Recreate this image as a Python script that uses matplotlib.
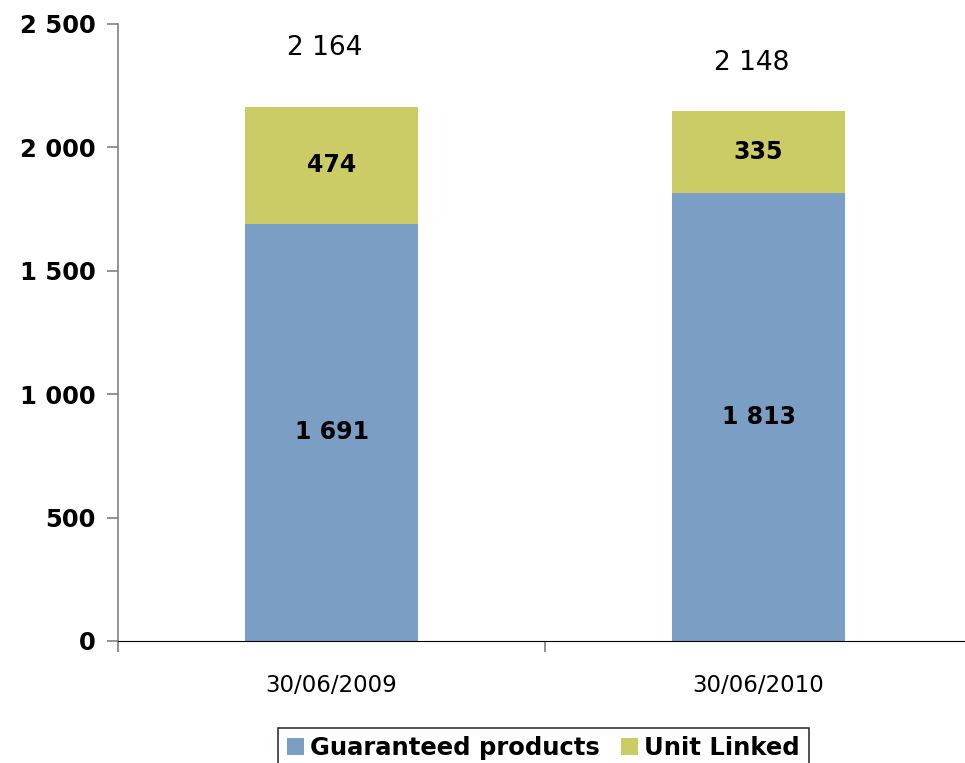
import matplotlib
matplotlib.use("Agg")
import matplotlib.pyplot as plt
import numpy as np

categories = ["30/06/2009", "30/06/2010"]
guaranteed = [1691, 1813]
unit_linked = [474, 335]
totals = [2164, 2148]
total_offsets = [240, 195]

blue = "#7b9ec4"
green = "#cccc66"


def fmt(v):
    return f"{v:,}".replace(",", " ")


fig = plt.figure(figsize=(9.65, 7.63), dpi=100)
ax = fig.add_axes([0.1223, 0.160, 0.885, 0.8086])

x = np.arange(len(categories))
w = 0.405
ax.bar(x, guaranteed, w, color=blue, label="Guaranteed products")
ax.bar(x, unit_linked, w, bottom=guaranteed, color=green, label="Unit Linked")

for i in x:
    ax.text(i, guaranteed[i] / 2, fmt(guaranteed[i]), ha="center", va="center",
            fontsize=17, fontweight="bold")
    ax.text(i, guaranteed[i] + unit_linked[i] / 2, fmt(unit_linked[i]),
            ha="center", va="center", fontsize=17, fontweight="bold")
    ax.text(i - 0.015, totals[i] + total_offsets[i], fmt(totals[i]),
            ha="center", va="center", fontsize=19)

ax.set_xlim(-0.5, 1.5)
ax.set_ylim(0, 2500)
ax.set_yticks(range(0, 2501, 500))
ax.set_yticklabels([fmt(v) for v in range(0, 2501, 500)], fontsize=17.5,
                   fontweight="bold")
ax.set_xticks([-0.5, 0.5, 1.5])
ax.set_xticklabels([])
ax.set_xticks(x, minor=True)
ax.set_xticklabels(categories, minor=True, fontsize=16.5)
ax.tick_params(axis="x", which="minor", length=0, pad=24)
ax.tick_params(axis="x", which="major", length=8, color="#808080", width=1.2)
ax.tick_params(axis="y", length=8, color="#808080", pad=8, width=1.2)

for s in ["top", "right"]:
    ax.spines[s].set_visible(False)
ax.spines["left"].set_color("#808080")
ax.spines["left"].set_linewidth(1.2)
ax.spines["bottom"].set_color("black")

leg = fig.legend(loc="upper center", bbox_to_anchor=(0.563, 0.062), ncol=2,
                 frameon=True, fancybox=False, edgecolor="black",
                 prop={"size": 17.5, "weight": "bold"}, handlelength=0.7,
                 handleheight=0.7, handletextpad=0.25, columnspacing=0.9,
                 borderpad=0.35)
leg.get_frame().set_linewidth(1.2)

fig.savefig("out.png", dpi=100)
